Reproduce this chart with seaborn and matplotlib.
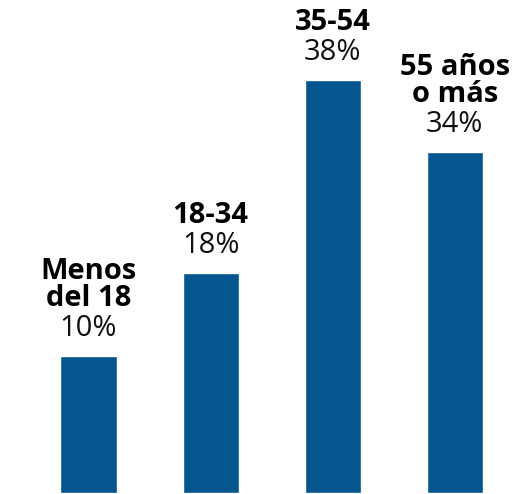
import pandas as pd
import matplotlib
matplotlib.use("Agg")
import matplotlib.pyplot as plt
import seaborn as sns

# age groups, the printed shares, and the bar lengths as drawn in the source
# (the source bars are not proportional to their labels, so keep both)
groups = ["Menos\ndel 18", "18-34", "35-54", "55 años\no más"]
shares = [10, 18, 38, 34]
bar_heights = [12.6, 20.2, 38.0, 31.4]

df = pd.DataFrame({"group": groups, "share": shares, "height": bar_heights})

sns.set_style("white")
plt.rcParams["font.family"] = ["Open Sans", "DejaVu Sans"]

fig = plt.figure(figsize=(5.17, 4.94), dpi=100)
ax = fig.add_axes([0, 0, 1, 1])

sns.barplot(data=df, x="group", y="height", color="#05558f",
            width=0.46, saturation=1, ax=ax)

for i, row in df.iterrows():
    ax.annotate(f"{row['share']}%", (i, row["height"]),
                xytext=(0, 14.5), textcoords="offset points",
                ha="center", va="baseline", fontsize=21, color="#111111")
    ax.annotate(row["group"], (i, row["height"]),
                xytext=(0, 36), textcoords="offset points",
                ha="center", va="baseline", fontsize=21,
                fontweight="bold", color="black", linespacing=0.9)

ax.set_xlim(-0.725, 3.51)
ax.set_ylim(-0.09, 45.35)
ax.axis("off")

fig.savefig("out.png", dpi=100)
